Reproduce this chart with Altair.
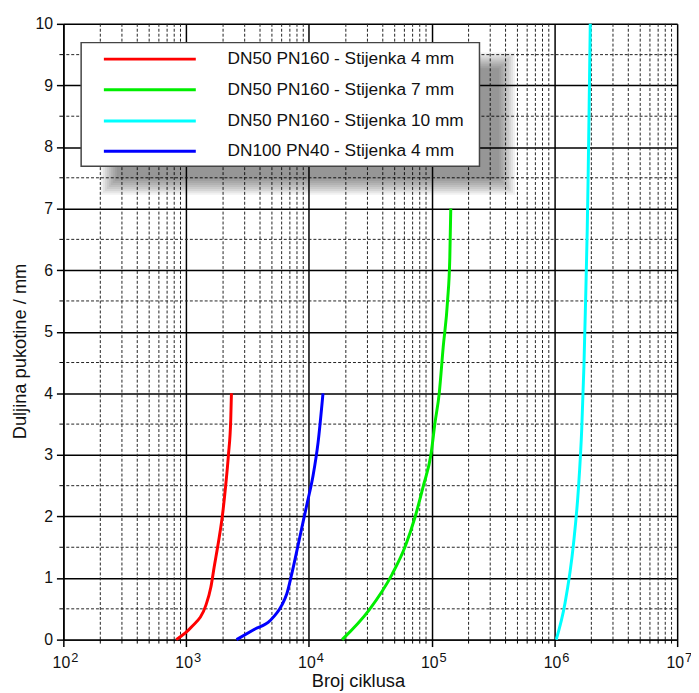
import altair as alt
import pandas as pd

W, H = 621, 623
FONT = "Liberation Sans"

SERIES = [
    "DN50 PN160 - Stijenka 4 mm",
    "DN50 PN160 - Stijenka 7 mm",
    "DN50 PN160 - Stijenka 10 mm",
    "DN100 PN40 - Stijenka 4 mm",
]
COLORS = ["#ff0000", "#00ee00", "#00ffff", "#0000ff"]

# crack length (mm) and number of cycles
RED_Y = [0, 0.2, 0.56, 0.85, 1.17, 1.6, 2.03, 2.5, 2.99, 3.58, 4.0]
RED_X = [830, 1100, 1450, 1590, 1690, 1840, 1980, 2100, 2210, 2310, 2340]

GREEN_Y = [0, 0.48, 1.06, 1.52, 2.0, 2.5, 3.01, 3.52, 4.0, 4.75, 5.5, 6.2, 7.0]
GREEN_X = [18660, 30900, 47600, 61100, 73500, 85700, 98800, 106500, 115300,
           124200, 134800, 140600, 143200]

CYAN_Y = [0, 0.59, 1.55, 2.46, 3.42, 4.44, 5.4, 6.63, 7.43, 8.7, 10]
CYAN_X = [1.035e6, 1.22e6, 1.43e6, 1.57e6, 1.67e6, 1.74e6, 1.79e6, 1.85e6,
          1.88e6, 1.92e6, 1.96e6]

BLUE_Y = [0, 0.16, 0.31, 0.56, 0.74, 1.06, 1.55, 1.92, 2.24, 2.67, 3.2, 4.0]
BLUE_X = [2575, 3550, 4840, 6020, 6600, 7240, 8200, 8990, 9750, 10830, 11880, 13030]

X_MAJOR = [1e2, 1e3, 1e4, 1e5, 1e6, 1e7]
X_EXP = ["2", "3", "4", "5", "6", "7"]
X_MINOR = [m * 10 ** d for d in range(2, 7) for m in range(2, 10)]
Y_MAJOR = list(range(0, 11))
Y_MINOR = [i + 0.5 for i in range(0, 10)]

rows = []
for name, xs, ys in zip(SERIES, [RED_X, GREEN_X, CYAN_X, BLUE_X],
                        [RED_Y, GREEN_Y, CYAN_Y, BLUE_Y]):
    for i, (xv, yv) in enumerate(zip(xs, ys)):
        rows.append({"series": name, "cycles": xv, "crack": yv, "idx": i})
df = pd.DataFrame(rows)

xscale = alt.Scale(type="log", domain=[100, 1e7], nice=False)
yscale = alt.Scale(domain=[0, 10], nice=False)

XAXIS = alt.Axis(values=X_MAJOR, labels=False, grid=True, gridColor="black",
                 gridWidth=1.5, tickSize=7, tickWidth=1.5, tickColor="black",
                 domainColor="black", domainWidth=1.5,
                 title="Broj ciklusa", titleFont=FONT, titleFontSize=18.5,
                 titleFontWeight="normal", titleColor="#111",
                 titleX=298, titleY=47, titleBaseline="alphabetic",
                 titleAlign="center")
YAXIS = alt.Axis(values=Y_MAJOR, grid=True, gridColor="black", gridWidth=1.5,
                 tickSize=7, tickWidth=1.5, tickColor="black",
                 domainColor="black", domainWidth=1.5,
                 labelFont=FONT, labelFontSize=16, labelColor="#111",
                 labelPadding=4,
                 title="Duljina pukotine / mm", titleFont=FONT, titleFontSize=18.5,
                 titleFontWeight="normal", titleColor="#111",
                 titleX=-38, titleY=331, titleAngle=270,
                 titleBaseline="alphabetic", titleAlign="center")


def X(field):
    return alt.X(field, scale=xscale, axis=XAXIS, title="Broj ciklusa")


def Y(field):
    return alt.Y(field, scale=yscale, axis=YAXIS, title="Duljina pukotine / mm")


lines = alt.Chart(df).mark_line(interpolate="monotone", strokeWidth=3).encode(
    x=X("cycles:Q"),
    y=Y("crack:Q"),
    color=alt.Color("series:N", scale=alt.Scale(domain=SERIES, range=COLORS), legend=None),
    order=alt.Order("idx:Q"),
)

dash = [3, 2]
xminor_df = pd.DataFrame({"v": X_MINOR})
yminor_df = pd.DataFrame({"v": Y_MINOR})

xminor_grid = alt.Chart(xminor_df).mark_rule(color="#222", strokeWidth=1, strokeDash=dash).encode(
    x=X("v:Q"))
yminor_grid = alt.Chart(yminor_df).mark_rule(color="#222", strokeWidth=1, strokeDash=dash).encode(
    y=Y("v:Q"))
xminor_ticks = alt.Chart(xminor_df).mark_rule(color="black", strokeWidth=1).encode(
    x=X("v:Q"), y=alt.value(H), y2=alt.value(H + 4))
yminor_ticks = alt.Chart(yminor_df).mark_rule(color="black", strokeWidth=1).encode(
    y=Y("v:Q"), x=alt.value(-4), x2=alt.value(0))

xlab_df = pd.DataFrame({"v": X_MAJOR, "exp": X_EXP})
xlab_base = alt.Chart(xlab_df).mark_text(font=FONT, fontSize=16, align="center",
                                         baseline="alphabetic", dx=-2, color="#111").encode(
    x=X("v:Q"), y=alt.value(H + 29), text=alt.value("10"))
xlab_exp = alt.Chart(xlab_df).mark_text(font=FONT, fontSize=13, align="left",
                                        baseline="alphabetic", dx=8, color="#111").encode(
    x=X("v:Q"), y=alt.value(H + 23), text="exp:N")

one = pd.DataFrame({"a": [0]})

# legend shadow (soft, layered)
shadow_layers = []
for k in range(-8, 9, 2):
    shadow_layers.append(
        alt.Chart(one).mark_rect(color="black", opacity=0.055).encode(
            x=alt.value(46 + k), x2=alt.value(449 - k),
            y=alt.value(37 + k), y2=alt.value(165 - k)))

box = alt.Chart(one).mark_rect(fill="white", stroke="#444", strokeWidth=1.5).encode(
    x=alt.value(18), x2=alt.value(421), y=alt.value(19), y2=alt.value(144))

LEG_Y = [35.7, 66.7, 98.3, 129]
leg_layers = []
for name, col, yy in zip(SERIES, COLORS, LEG_Y):
    leg_layers.append(alt.Chart(one).mark_rule(strokeWidth=3, color=col).encode(
        x=alt.value(41), x2=alt.value(134), y=alt.value(yy)))
    leg_layers.append(alt.Chart(one).mark_text(font=FONT, fontSize=17.5, align="left",
                                               baseline="middle", color="#111").encode(
        x=alt.value(166), y=alt.value(yy), text=alt.value(name)))

chart = alt.layer(xminor_grid, yminor_grid, xminor_ticks, yminor_ticks, lines,
                  xlab_base, xlab_exp, *shadow_layers, box, *leg_layers).properties(
    width=W, height=H,
    autosize=alt.AutoSizeParams(type="none"),
    padding={"left": 56, "top": 12, "right": 14, "bottom": 52},
).configure_view(stroke="black", strokeWidth=1.5).configure(background="white")

chart.save("out.html", embed_options={"renderer": "svg", "actions": False})
